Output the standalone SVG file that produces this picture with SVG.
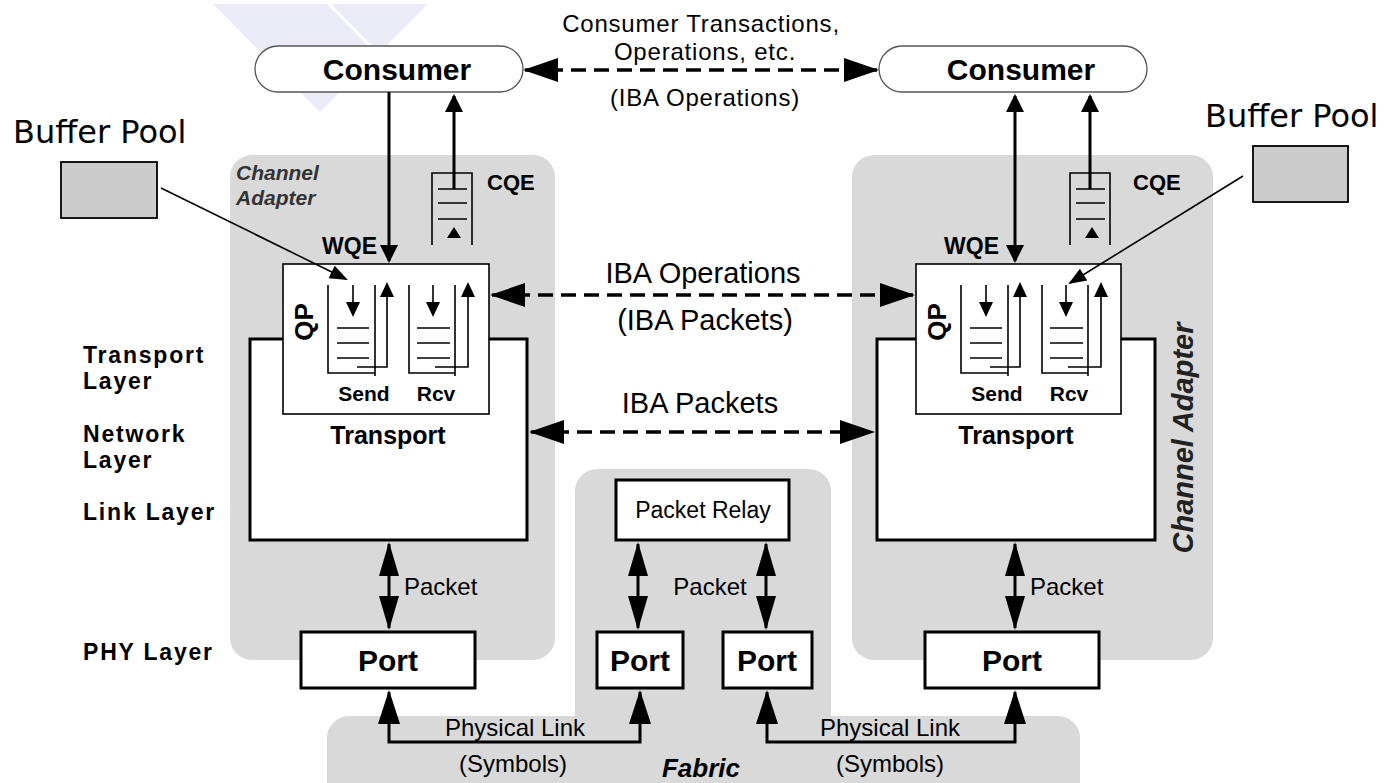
<svg xmlns="http://www.w3.org/2000/svg" width="1386" height="783" viewBox="0 0 1386 783">
  <style>
    .panel{fill:#d9d9d9}
    .box{fill:#fff;stroke:#000;stroke-width:3}
    .qp{fill:#fff;stroke:#000;stroke-width:1.6}
    .pill{fill:#fff;stroke:#555;stroke-width:1.3}
    .buf{fill:#cccccc;stroke:#000;stroke-width:1.8}
    .ln{fill:none;stroke:#000;stroke-width:3}
    .th{fill:none;stroke:#000;stroke-width:1.6}
    .dash{fill:none;stroke:#000;stroke-width:3.5;stroke-dasharray:15 8}
    text{font-family:"Liberation Sans",Arial,sans-serif;fill:#000}
    .b{font-weight:bold}
    .bi{font-weight:bold;font-style:italic}
    .mid{text-anchor:middle}
    .end{text-anchor:end}
    .lay{font-size:23px;font-weight:bold;letter-spacing:1.8px}
    .top{font-size:24px;letter-spacing:0.8px}
    .iba{font-size:29px}
    .small{font-size:24px}
    .pool{font-family:"DejaVu Sans",Verdana,sans-serif;font-size:32px}
    .ca{font-size:21px;fill:#333}
  </style>
  <defs>
    <marker id="ahD" markerUnits="userSpaceOnUse" orient="auto-start-reverse" overflow="visible" markerWidth="1" markerHeight="1">
      <path d="M2,0 L-33,-12 L-33,12 Z" fill="#000"/>
    </marker>
    <marker id="ahV" markerUnits="userSpaceOnUse" orient="auto-start-reverse" overflow="visible" markerWidth="1" markerHeight="1">
      <path d="M2,0 L-16,-9 L-16,9 Z" fill="#000"/>
    </marker>
    <marker id="ahP" markerUnits="userSpaceOnUse" orient="auto-start-reverse" overflow="visible" markerWidth="1" markerHeight="1">
      <path d="M2,0 L-32,-10 L-32,10 Z" fill="#000"/>
    </marker>
    <marker id="ahL" markerUnits="userSpaceOnUse" orient="auto-start-reverse" overflow="visible" markerWidth="1" markerHeight="1">
      <path d="M2,0 L-32,-11 L-32,11 Z" fill="#000"/>
    </marker>
    <marker id="ahS" markerUnits="userSpaceOnUse" orient="auto" overflow="visible" markerWidth="1" markerHeight="1">
      <path d="M2,0 L-13,-7 L-13,7 Z" fill="#000"/>
    </marker>
    <marker id="ahB" markerUnits="userSpaceOnUse" orient="auto" overflow="visible" markerWidth="1" markerHeight="1">
      <path d="M2,0 L-16,-7 L-16,7 Z" fill="#000"/>
    </marker>
    <!-- queue pair internals, origin at the QP box left edge -->
    <g id="qpInner">
      <path class="th" d="M45,285 V373 H92 M92,285 V376"/>
      <path class="th" d="M54,328 H86 M54,343 H86 M54,358 H86"/>
      <path class="th" d="M74,367 H104 V284" marker-end="url(#ahS)"/>
      <path class="th" d="M70,285 V315" marker-end="url(#ahS)"/>
      <path class="th" d="M126,285 V373 H172 M172,285 V376"/>
      <path class="th" d="M134,328 H167 M134,343 H167 M134,358 H167"/>
      <path class="th" d="M152,367 H185 V284" marker-end="url(#ahS)"/>
      <path class="th" d="M150,285 V315" marker-end="url(#ahS)"/>
      <text class="b" font-size="26" text-anchor="middle" transform="translate(30,322) rotate(-90)">QP</text>
      <text class="b mid" font-size="21" x="81" y="401">Send</text>
      <text class="b mid" font-size="21" x="153" y="401">Rcv</text>
    </g>
    <!-- completion queue, origin at its left rail -->
    <g id="cq">
      <path class="th" d="M0,245 V173 H40 V245"/>
      <path class="th" d="M6,189 H35 M6,203 H35 M6,219 H35"/>
      <path d="M22,227 L15,238 L29,238 Z" fill="#000"/>
    </g>
  </defs>

  <!-- faint logo mark -->
  <g id="logo">
    <polygon points="213,4 428,4 320,112" fill="#ececf8"/>
    <line x1="328" y1="3" x2="379" y2="55" stroke="#fff" stroke-width="3"/>
  </g>

  <!-- background regions -->
  <g id="ca-left-region"><rect class="panel" x="230" y="155" width="325" height="505" rx="22"/></g>
  <g id="ca-right-region"><rect class="panel" x="852" y="155" width="361" height="505" rx="22"/></g>
  <g id="fabric-region">
    <rect class="panel" x="575" y="469" width="256" height="340" rx="22"/>
    <rect class="panel" x="327" y="716" width="753" height="100" rx="22"/>
    <text class="bi mid" font-size="26" x="701" y="777">Fabric</text>
  </g>

  <!-- layer captions -->
  <g id="layers">
    <text class="lay" x="83" y="363">Transport</text>
    <text class="lay" x="83" y="389">Layer</text>
    <text class="lay" x="83" y="442">Network</text>
    <text class="lay" x="83" y="468">Layer</text>
    <text class="lay" x="83" y="520">Link Layer</text>
    <text class="lay" x="83" y="660">PHY Layer</text>
  </g>

  <!-- consumers -->
  <g id="consumer-left">
    <rect class="pill" x="255" y="46" width="268" height="46" rx="23"/>
    <text class="b mid" font-size="30" x="397" y="80">Consumer</text>
  </g>
  <g id="consumer-right">
    <rect class="pill" x="879" y="46" width="268" height="46" rx="23"/>
    <text class="b mid" font-size="30" x="1021" y="80">Consumer</text>
  </g>

  <!-- buffer pools -->
  <g id="buffer-pool-left">
    <text class="pool" x="13" y="143">Buffer Pool</text>
    <rect class="buf" x="61" y="162" width="96" height="56"/>
  </g>
  <g id="buffer-pool-right">
    <text class="pool" x="1205" y="127">Buffer Pool</text>
    <rect class="buf" x="1253" y="146" width="95" height="56"/>
  </g>

  <!-- left channel adapter -->
  <g id="channel-adapter-left">
    <text class="bi ca" x="236" y="180">Channel</text>
    <text class="bi ca" x="236" y="205">Adapter</text>
    <use href="#cq" x="432"/>
    <text class="b" font-size="22" x="487" y="190">CQE</text>
    <text class="b end" font-size="23" x="377" y="254">WQE</text>
    <rect class="box" x="250" y="339" width="277" height="201"/>
    <rect class="qp" x="283" y="264" width="206" height="150"/>
    <use href="#qpInner" x="283"/>
    <text class="b mid" font-size="25" x="388" y="444">Transport</text>
  </g>

  <!-- right channel adapter -->
  <g id="channel-adapter-right">
    <text class="bi mid" font-size="29" transform="translate(1193,438) rotate(-90)" style="fill:#222">Channel Adapter</text>
    <use href="#cq" x="1070"/>
    <text class="b" font-size="22" x="1133" y="190">CQE</text>
    <text class="b end" font-size="23" x="999" y="254">WQE</text>
    <rect class="box" x="877" y="339" width="278" height="201"/>
    <rect class="qp" x="916" y="264" width="205" height="150"/>
    <use href="#qpInner" x="916"/>
    <text class="b mid" font-size="25" x="1016" y="444">Transport</text>
  </g>

  <!-- ports and relay -->
  <g id="port-left"><rect class="box" x="301" y="632" width="174" height="56"/><text class="b mid" font-size="30" x="388" y="671">Port</text></g>
  <g id="port-fabric-1"><rect class="box" x="597" y="632" width="86" height="56"/><text class="b mid" font-size="30" x="640" y="671">Port</text></g>
  <g id="port-fabric-2"><rect class="box" x="723" y="632" width="89" height="56"/><text class="b mid" font-size="30" x="767" y="671">Port</text></g>
  <g id="port-right"><rect class="box" x="925" y="632" width="174" height="56"/><text class="b mid" font-size="30" x="1012" y="671">Port</text></g>
  <g id="packet-relay"><rect class="box" x="616" y="480" width="173" height="60"/><text class="mid" font-size="23" x="703" y="518">Packet Relay</text></g>

  <!-- connectors -->
  <g id="connectors">
    <path class="dash" d="M525,70 H877" marker-start="url(#ahD)" marker-end="url(#ahD)"/>
    <text class="top mid" x="701" y="32">Consumer Transactions,</text>
    <text class="top mid" x="705" y="60">Operations, etc.</text>
    <text class="top mid" x="705" y="106">(IBA Operations)</text>

    <path class="dash" d="M492,295 H913" marker-start="url(#ahD)" marker-end="url(#ahD)"/>
    <text class="iba mid" x="703" y="283">IBA Operations</text>
    <text class="iba mid" x="705" y="330">(IBA Packets)</text>

    <path class="dash" d="M531,432 H873" marker-start="url(#ahD)" marker-end="url(#ahD)"/>
    <text class="iba mid" x="700" y="413">IBA Packets</text>

    <path class="ln" d="M389,92 V261" marker-end="url(#ahV)"/>
    <path class="ln" d="M454,189 V96" marker-end="url(#ahV)"/>
    <path class="ln" d="M1015,96 V261" marker-start="url(#ahV)" marker-end="url(#ahV)"/>
    <path class="ln" d="M1090,189 V96" marker-end="url(#ahV)"/>

    <path class="th" d="M161,188 L346,279" marker-end="url(#ahB)"/>
    <path class="th" d="M1243,176 L1070,283" marker-end="url(#ahB)"/>

    <path class="ln" d="M389,544 V628" marker-start="url(#ahP)" marker-end="url(#ahP)"/>
    <path class="ln" d="M638,544 V628" marker-start="url(#ahP)" marker-end="url(#ahP)"/>
    <path class="ln" d="M766,544 V628" marker-start="url(#ahP)" marker-end="url(#ahP)"/>
    <path class="ln" d="M1015,544 V628" marker-start="url(#ahP)" marker-end="url(#ahP)"/>
    <text class="small" x="404" y="595">Packet</text>
    <text class="small mid" x="710" y="595">Packet</text>
    <text class="small" x="1030" y="595">Packet</text>

    <path class="ln" d="M389,692 V742 H640 V692" marker-start="url(#ahL)" marker-end="url(#ahL)"/>
    <path class="ln" d="M767,692 V742 H1015 V692" marker-start="url(#ahL)" marker-end="url(#ahL)"/>
    <text class="small mid" x="515" y="736">Physical Link</text>
    <text class="small mid" x="513" y="772">(Symbols)</text>
    <text class="small mid" x="890" y="736">Physical Link</text>
    <text class="small mid" x="890" y="772">(Symbols)</text>
  </g>
</svg>
